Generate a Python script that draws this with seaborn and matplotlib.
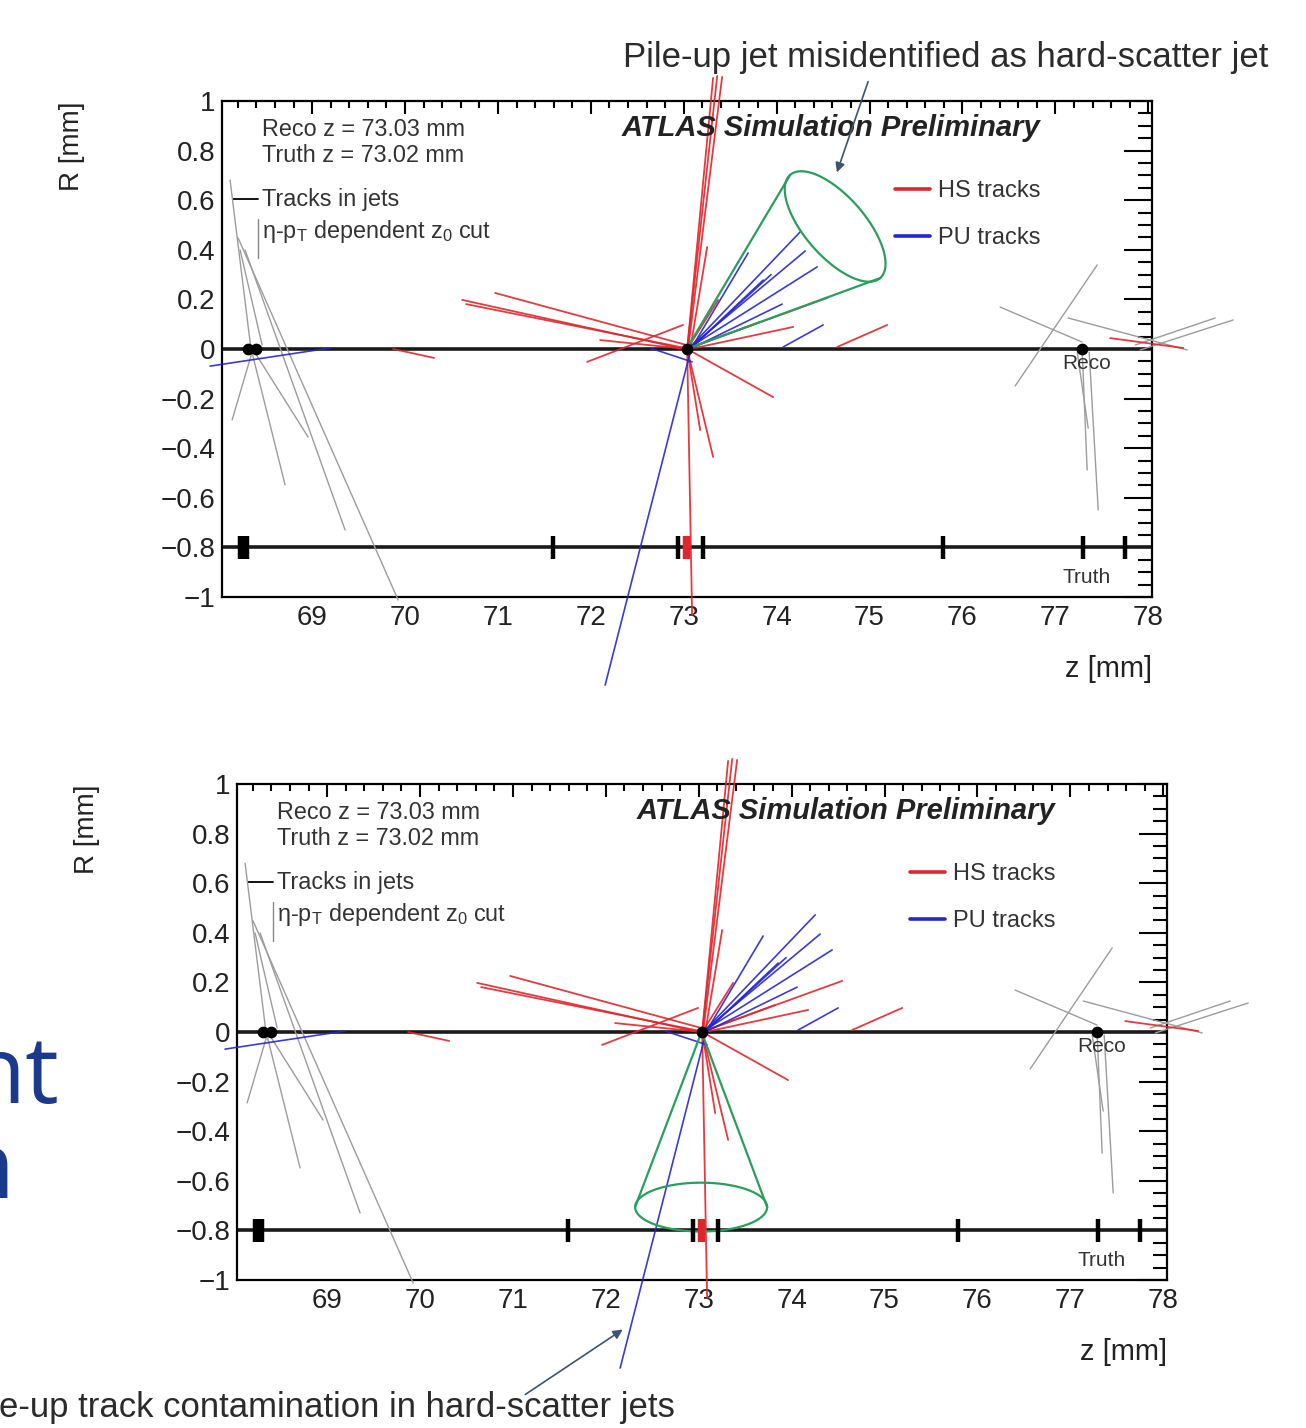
import numpy as np
import pandas as pd
import matplotlib
matplotlib.use("Agg")
import matplotlib.pyplot as plt
import seaborn as sns
from matplotlib.lines import Line2D
from matplotlib.ticker import MultipleLocator, FuncFormatter

sns.set_theme(style="white")
plt.rcParams['font.family'] = ['Liberation Sans', 'DejaVu Sans']
plt.rcParams['mathtext.fontset'] = 'custom'
plt.rcParams['mathtext.rm'] = 'Liberation Sans'
plt.rcParams['mathtext.it'] = 'Liberation Sans:italic'

# --- event data (z in mm, R in mm) ---
reco_z = [68.31, 68.40, 73.03, 77.29]
truth_z = [68.22, 68.26, 68.30, 71.59, 72.94, 73.21, 75.79, 77.30, 77.75]
truth_hs_z = [73.01, 73.05]

# hard-scatter tracks: start z, start R, end z, end R
hs_z0 = [73.037, 73.037, 73.047, 73.07, 70.615, 70.658, 70.97, 71.96, 73.026, 73.069,
         74.651, 73.037, 73.037, 73.037, 69.872, 77.59, 73.037, 73.037, 72.10, 73.037]
hs_r0 = [0.0, 0.0, 0.0, 0.0, 0.198, 0.181, 0.226, -0.052, 0.0, 0.0,
         0.008, 0.0, 0.0, 0.0, 0.0, 0.044, 0.0, 0.0, 0.036, 0.0]
hs_z1 = [73.316, 73.36, 73.413, 73.252, 73.004, 73.069, 73.069, 72.993, 74.544, 74.178,
         75.19, 73.962, 73.316, 73.09, 70.313, 78.376, 73.37, 73.822, 73.037, 73.177]
hs_r1 = [1.093, 1.101, 1.097, 0.411, 0.0, 0.0, 0.012, 0.097, 0.206, 0.089,
         0.097, -0.194, -0.435, -1.073, -0.036, 0.004, 0.198, 0.109, 0.0, -0.327]

# pile-up tracks
pu_z0 = [73.069, 73.069, 73.069, 73.09, 73.09, 73.112, 74.07, 72.638, 73.09, 67.902, 73.09]
pu_r0 = [0.008, 0.008, 0.008, 0.008, 0.008, 0.008, 0.008, 0.004, 0.016, -0.069, 0.008]
pu_z1 = [74.253, 74.307, 74.436, 73.693, 73.855, 74.059, 74.50, 73.09, 72.154, 69.194, 73.94]
pu_r1 = [0.472, 0.395, 0.331, 0.387, 0.278, 0.181, 0.097, -0.052, -1.355, 0.004, 0.30]

# tracks from other vertices
ot_z0 = [68.203, 68.279, 68.333, 68.333, 68.354, 68.117, 68.225,
         77.45, 76.406, 77.138, 77.86, 77.913, 77.235, 77.289, 77.364]
ot_r0 = [0.448, 0.399, 0.016, 0.016, -0.012, 0.681, 0.399,
         0.339, 0.169, 0.125, 0.016, -0.004, -0.012, -0.012, -0.012]
ot_z1 = [69.926, 69.355, 68.709, 68.957, 68.139, 68.343, 68.462,
         76.567, 77.288, 78.419, 78.72, 78.914, 77.353, 77.342, 77.461]
ot_r1 = [-1.012, -0.730, -0.548, -0.355, -0.286, -0.004, 0.016,
         -0.149, 0.028, -0.004, 0.125, 0.117, -0.319, -0.488, -0.649]

# jet cones: apex, rim end 1, rim end 2, minor/major ratio of the rim
cone_top = dict(apex=(73.03, 0.0), rim1=(74.145, 0.702), rim2=(75.114, 0.286), ratio=0.44)
cone_bot = dict(apex=(73.03, 0.0), rim1=(72.315, -0.706), rim2=(73.736, -0.706), ratio=0.37)

RED, BLUE, GREEN, GREY = '#e0262b', '#2626cc', '#2a9e5c', '#9c9c9c'


def seg_frame(z0, r0, z1, r1):
    rows = []
    for i in range(len(z0)):
        rows.append((i, z0[i], r0[i]))
        rows.append((i, z1[i], r1[i]))
    return pd.DataFrame(rows, columns=['track', 'z', 'R'])


df_hs = seg_frame(hs_z0, hs_r0, hs_z1, hs_r1)
df_pu = seg_frame(pu_z0, pu_r0, pu_z1, pu_r1)
df_ot = seg_frame(ot_z0, ot_r0, ot_z1, ot_r1)


def fmt_r(v, pos):
    if abs(v - round(v)) < 1e-6:
        s = str(int(round(v)))
    else:
        s = f"{v:.1f}"
    return s.replace('-', '\u2212')


def draw_cone(ax, cone):
    tr = ax.transData
    a = tr.transform(cone['apex'])
    p1 = tr.transform(cone['rim1'])
    p2 = tr.transform(cone['rim2'])
    c = (p1 + p2) / 2
    u = (p2 - p1) / 2
    v = np.array([-u[1], u[0]]) * cone['ratio']
    t = np.linspace(0, 2 * np.pi, 200)
    pts = c + np.outer(np.cos(t), u) + np.outer(np.sin(t), v)
    pts = tr.inverted().transform(pts)
    ax.plot(pts[:, 0], pts[:, 1], color=GREEN, lw=1.6, clip_on=False, zorder=4)
    side = tr.inverted().transform(np.array([p1, a, p2]))
    ax.plot(side[:, 0], side[:, 1], color=GREEN, lw=1.6, clip_on=False, zorder=4)


def panel(ax, cone):
    ax.set_xlim(68.03, 78.04)
    ax.set_ylim(-1, 1)
    ax.axhline(0, color='#1a1a1a', lw=2.6, zorder=2)
    ax.axhline(-0.8, color='#1a1a1a', lw=2.6, zorder=2)

    sns.lineplot(data=df_ot, x='z', y='R', units='track', estimator=None, sort=False,
                 color=GREY, lw=1.0, ax=ax, clip_on=False, legend=False, zorder=3)
    sns.lineplot(data=df_hs, x='z', y='R', units='track', estimator=None, sort=False,
                 color=RED, lw=1.3, alpha=0.9, ax=ax, clip_on=False, legend=False, zorder=3)
    sns.lineplot(data=df_pu, x='z', y='R', units='track', estimator=None, sort=False,
                 color=BLUE, lw=1.2, alpha=0.9, ax=ax, clip_on=False, legend=False, zorder=3)
    draw_cone(ax, cone)

    ax.scatter(reco_z, [0] * len(reco_z), s=55, color='black', zorder=5)
    ax.vlines(truth_z, -0.847, -0.753, color='black', lw=3.2, zorder=5)
    ax.vlines(truth_hs_z, -0.847, -0.753, color=RED, lw=3.2, zorder=5)

    ax.set_xlabel('')
    ax.set_ylabel('')
    ax.xaxis.set_major_locator(MultipleLocator(1))
    ax.xaxis.set_minor_locator(MultipleLocator(0.2))
    ax.yaxis.set_major_locator(MultipleLocator(0.2))
    ax.yaxis.set_minor_locator(MultipleLocator(0.05))
    ax.yaxis.set_major_formatter(FuncFormatter(fmt_r))
    ax.tick_params(axis='both', which='both', direction='in', top=True, right=True,
                   width=1.5, color='black', labelsize=20, labelcolor='#222222')
    ax.tick_params(axis='x', which='major', length=9, pad=6)
    ax.tick_params(axis='x', which='minor', length=5)
    ax.tick_params(axis='y', which='major', length=20, pad=5)
    ax.tick_params(axis='y', which='minor', length=10)
    for s in ax.spines.values():
        s.set_linewidth(1.6)
        s.set_color('black')

    txt = dict(transform=ax.transAxes, fontsize=16.8, color='#333333', va='center')
    ax.text(0.043, 0.9435, 'Reco z = 73.03 mm', **txt)
    ax.text(0.043, 0.891, 'Truth z = 73.02 mm', **txt)
    ax.text(0.043, 0.8024, 'Tracks in jets', **txt)
    ax.text(0.043, 0.736, r'η-p$_\mathregular{T}$ dependent z$_\mathregular{0}$ cut', **txt)
    ax.plot([0.012, 0.039], [0.8024, 0.8024], transform=ax.transAxes, color='black', lw=1.3)
    ax.plot([0.039, 0.039], [0.683, 0.762], transform=ax.transAxes, color='#888888', lw=1.0)

    ax.text(0.4301, 0.9456, 'ATLAS Simulation Preliminary', transform=ax.transAxes,
            fontsize=21, fontweight='bold', fontstyle='italic', color='#222222', va='center')
    ax.text(77.34, -0.06, 'Reco', fontsize=15, color='#333333', ha='center', va='center', zorder=6)
    ax.text(77.34, -0.92, 'Truth', fontsize=15, color='#333333', ha='center', va='center', zorder=6)

    handles = [Line2D([], [], color=RED, lw=2.6), Line2D([], [], color=BLUE, lw=2.6)]
    ax.legend(handles, ['HS tracks', 'PU tracks'], loc='upper left',
              bbox_to_anchor=(0.7237, 0.84), frameon=False, fontsize=17,
              handlelength=1.5, handletextpad=0.3, labelspacing=1.06,
              borderpad=0, borderaxespad=0, labelcolor='#333333')

    ax.text(-0.161, 1.0, 'R [mm]', transform=ax.transAxes, rotation=90, fontsize=20,
            color='#222222', ha='center', va='top')
    ax.text(1.0, -0.145, 'z [mm]', transform=ax.transAxes, fontsize=21,
            color='#222222', ha='right', va='center')


W, H = 1306, 1428
fig = plt.figure(figsize=(W / 100, H / 100), dpi=100)
fig.patch.set_facecolor('white')

ax_top = fig.add_axes([222 / W, 1 - 597 / H, 930 / W, 496 / H])
ax_bot = fig.add_axes([237 / W, 1 - 1280 / H, 930 / W, 496 / H])
panel(ax_top, cone_top)
panel(ax_bot, cone_bot)

# annotations on the slide (bottom one is cut at the slide edge in the source)
note_col = '#2b2b2b'
arrow_col = '#3b5470'
fig.text(946 / W, 1 - 58 / H, 'Pile-up jet misidentified as hard-scatter jet',
         fontsize=25, color=note_col, ha='center', va='center')
fig.text(675 / W, 1 - 1407 / H, 'e-up track contamination in hard-scatter jets',
         fontsize=25, color=note_col, ha='right', va='center')
ax_top.annotate('', xy=(836, H - 175), xytext=(869, H - 79), xycoords='figure pixels',
                textcoords='figure pixels',
                arrowprops=dict(arrowstyle='-|>', color=arrow_col, lw=1.2, mutation_scale=14))
ax_bot.annotate('', xy=(625, H - 1328), xytext=(523, H - 1396), xycoords='figure pixels',
                textcoords='figure pixels',
                arrowprops=dict(arrowstyle='-|>', color=arrow_col, lw=1.2, mutation_scale=14))

# slide title fragments at the left edge
fig.text(60 / W, 1 - 1103 / H, 'nt', fontsize=68, color='#1c3a8c', family='Open Sans',
         ha='right', va='baseline')
fig.text(15 / W, 1 - 1198 / H, 'n', fontsize=68, color='#1c3a8c', family='Open Sans',
         ha='right', va='baseline')

fig.savefig('out.png', dpi=100, facecolor='white')
